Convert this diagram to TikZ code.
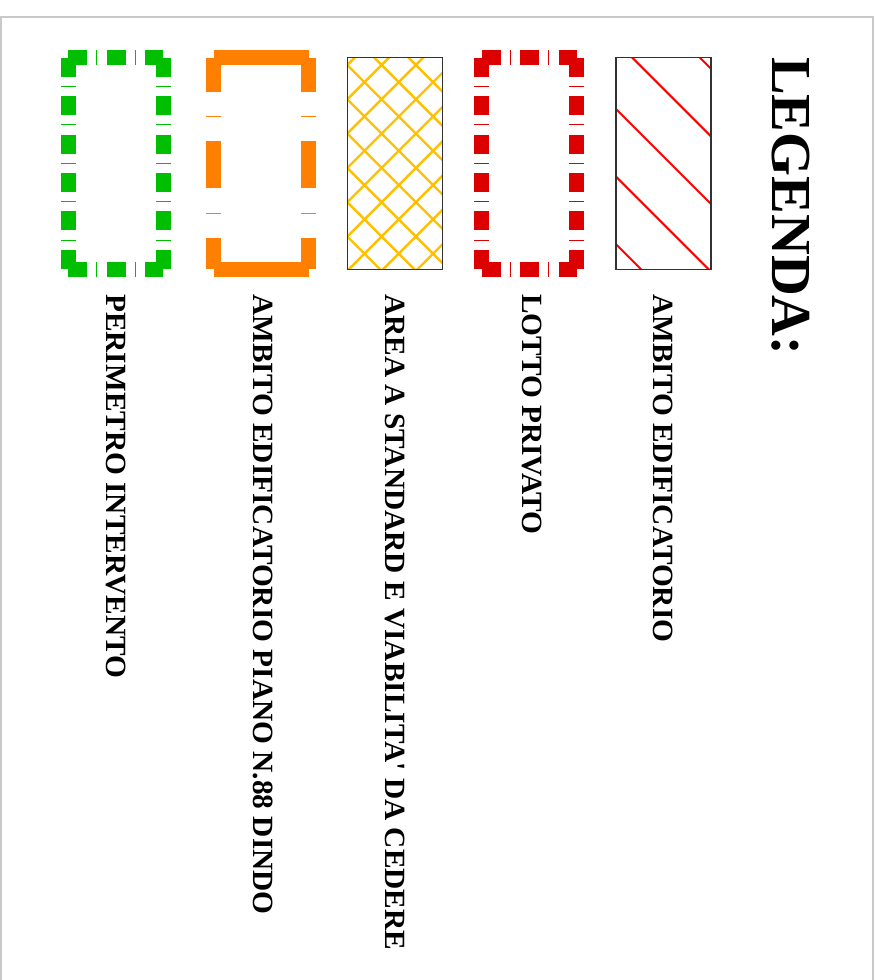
\documentclass[tikz,border=0pt]{standalone}
\usepackage{fontspec}
\setmainfont{Liberation Serif}
\usepackage{xcolor}
\definecolor{permgreen}{RGB}{0,190,0}
\definecolor{pianoorange}{RGB}{255,128,0}
\definecolor{standardgold}{RGB}{255,192,0}
\definecolor{lottored}{RGB}{220,0,0}
\definecolor{hatchred}{RGB}{255,0,0}
\definecolor{framegray}{RGB}{200,200,200}
\definecolor{edgegray}{RGB}{50,50,50}

\begin{document}
\begin{tikzpicture}[
  x=1pt, y=-1pt,
  perimline/.style={line width=15pt, line cap=butt, dash pattern=on 19pt off 9.2pt on 1pt off 9.2pt},
  pianoline/.style={line width=15pt, line cap=butt, draw=pianoorange},
  hatchbox/.style={draw=edgegray, line width=1.1pt},
  legtext/.style={rotate=-90, anchor=west, inner sep=0pt, font=\fontsize{29.35}{34}\selectfont\bfseries},
  legtitle/.style={rotate=-90, anchor=west, inner sep=0pt, font=\fontsize{56.5}{60}\selectfont\bfseries}
]
\useasboundingbox (0,0) rectangle (880,980);
\draw[framegray, line width=1.3pt] (1,980) -- (1,17) -- (873,17) -- (873,980);

% dash-dot boxes (perimetro, lotto)
\foreach \x/\col in {68.2/permgreen,481.8/lottored}{
  \draw[perimline, draw=\col] (\x,57.8) -- ++(95,0);
  \draw[perimline, draw=\col] (\x,269.5) -- ++(95,0);
  \draw[perimline, draw=\col] (\x,57.8) -- ++(0,211.7);
  \draw[perimline, draw=\col] ({\x+95},57.8) -- ++(0,211.7);
}

% piano n.88 box
\draw[pianoline] (213.5,57.5) -- (308.5,57.5);
\draw[pianoline] (213.5,269.2) -- (308.5,269.2);
\foreach \x in {213.5,308.5}
  \draw[pianoline, dash pattern=on 47.3pt off 24.3pt on 1pt off 24.3pt, dash phase=13.3pt] (\x,57.5) -- (\x,269.2);

% cross hatch
\begin{scope}
  \clip (347.3,57.7) rectangle (442.3,269.3);
  \foreach \k in {-4,...,7}{
    \pgfmathsetmacro\c{-282.3+34.3*\k}
    \draw[standardgold, line width=2.4pt] (340,{\c+340}) -- (450,{\c+450});
  }
  \foreach \k in {-1,...,9}{
    \pgfmathsetmacro\c{412.3+34.3*\k}
    \draw[standardgold, line width=2.4pt] (340,{\c-340}) -- (450,{\c-450});
  }
\end{scope}
\draw[hatchbox] (347.3,57.7) rectangle (442.3,269.3);

% single hatch
\begin{scope}
  \clip (616,57.7) rectangle (711,269.3);
  \foreach \k in {0,...,4}{
    \pgfmathsetmacro\c{-642.3+67.65*\k}
    \draw[hatchred, line width=2pt] (600,{\c+600}) -- (720,{\c+720});
  }
\end{scope}
\draw[hatchbox] (616,57.7) rectangle (711,269.3);

% texts
\node[legtitle] (title) at (791,57) {LEGENDA:};
\node[legtext] (perimetro) at (116,294) {PERIMETRO INTERVENTO};
\node[legtext] (piano) at (262.7,294) {AMBITO EDIFICATORIO PIANO N.88 DINDO};
\node[legtext] (standard) at (395,294) {AREA A STANDARD E VIABILITA\textquotesingle\ DA CEDERE};
\node[legtext] (lotto) at (531.5,294) {LOTTO PRIVATO};
\node[legtext] (ambito) at (663.5,294) {AMBITO EDIFICATORIO};
\end{tikzpicture}
\end{document}
